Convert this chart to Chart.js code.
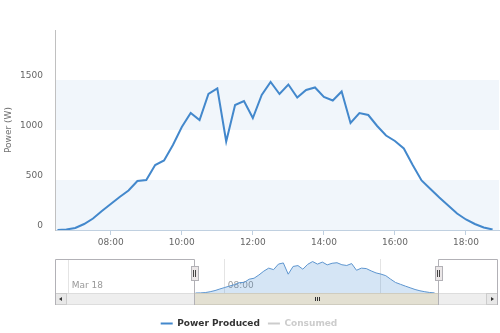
<!DOCTYPE html>
<html>
<head>
<meta charset="utf-8">
<script src="https://cdn.jsdelivr.net/npm/chart.js@4.4.1/dist/chart.umd.min.js"></script>
<style>
  html, body { margin: 0; padding: 0; background: #fff; overflow: hidden; width: 500px; height: 333px; }
  #main { position: absolute; left: 0; top: 0; }
  #nav { position: absolute; left: 0; top: 250px; }
</style>
</head>
<body>
<canvas id="main" width="500" height="250"></canvas>
<canvas id="nav" width="500" height="88"></canvas>
<script>
// readings, 15 min apart, Mar 18
const times = ['06:30', '06:45', '07:00', '07:15', '07:30', '07:45', '08:00', '08:15', '08:30', '08:45',
  '09:00', '09:15', '09:30', '09:45', '10:00', '10:15', '10:30', '10:45', '11:00', '11:15',
  '11:30', '11:45', '12:00', '12:15', '12:30', '12:45', '13:00', '13:15', '13:30', '13:45',
  '14:00', '14:15', '14:30', '14:45', '15:00', '15:15', '15:30', '15:45', '16:00', '16:15',
  '16:30', '16:45', '17:00', '17:15', '17:30', '17:45', '18:00', '18:15', '18:30', '18:45']
const powerProduced = [0, 5, 20, 60, 115, 190, 260, 330, 395, 490,
  500, 650, 695, 850, 1030, 1170, 1100, 1360, 1415, 885,
  1250, 1290, 1120, 1350, 1480, 1360, 1455, 1325, 1400, 1425,
  1330, 1295, 1385, 1070, 1170, 1150, 1040, 945, 890, 815,
  650, 495, 410, 325, 245, 165, 105, 60, 25, 5]
const consumed = []

const seriesNames = ['Power Produced', 'Consumed']
const xTickLabels = ['08:00', '10:00', '12:00', '14:00', '16:00', '18:00']
const yTicks = [0, 500, 1000, 1500]
const yBands = [[0, 500], [1000, 1500]]
const navTickLabels = ['Mar 18', '08:00', '']
const navTickValues = [0, 8, 16]

const viewMin = 6.43
const viewMax = 18.93

const toHours = (t) => {
  const [h, m] = t.split(':').map(Number)
  return h + m / 60
}
const points = times.map((t, i) => ({ x: toHours(t), y: powerProduced[i] }))

Chart.defaults.font.family = 'DejaVu Sans'
Chart.defaults.font.size = 9

const lineColor = '#4388cc'

// alternate grid bands behind the line
const bandsPlugin = {
  id: 'bands',
  beforeDatasetsDraw (chart) {
    const { ctx, chartArea: a, scales: { y } } = chart
    ctx.save()
    ctx.fillStyle = '#f1f6fb'
    yBands.forEach(([from, to]) => {
      const y1 = y.getPixelForValue(to)
      const y2 = y.getPixelForValue(from)
      ctx.fillRect(a.left + 1, y1, a.right - a.left - 1, y2 - y1)
    })
    ctx.restore()
  }
}

new Chart(document.getElementById('main'), {
  type: 'line',
  data: {
    datasets: [{
      label: seriesNames[0],
      data: points,
      borderColor: lineColor,
      borderWidth: 2,
      pointRadius: 0,
      tension: 0,
      fill: false
    }]
  },
  options: {
    animation: false,
    responsive: false,
    layout: { padding: { top: 30, right: 1, left: 0, bottom: 0 } },
    plugins: { legend: { display: false }, tooltip: { enabled: false } },
    scales: {
      x: {
        type: 'linear',
        min: viewMin,
        max: viewMax,
        afterBuildTicks: (s) => { s.ticks = xTickLabels.map((t) => ({ value: toHours(t) })) },
        afterFit: (s) => { s.height = 20 },
        grid: { drawOnChartArea: false, drawTicks: true, tickLength: 5, color: '#c0d0e0' },
        border: { color: '#c0d0e0' },
        ticks: {
          color: '#666',
          padding: 2,
          maxRotation: 0,
          autoSkip: false,
          callback: (v) => xTickLabels.find((t) => toHours(t) === v) || ''
        }
      },
      y: {
        min: 0,
        max: 2000,
        afterBuildTicks: (s) => { s.ticks = yTicks.map((v) => ({ value: v })) },
        afterFit: (s) => { s.width = 55 },
        grid: { display: false, drawTicks: false },
        border: { display: true, color: '#c0c0c0' },
        ticks: { color: '#666', padding: 12, labelOffset: -4, callback: (v) => String(v) },
        title: { display: true, text: 'Power (W)', color: '#707070', padding: { top: 3, bottom: 0 } }
      }
    }
  },
  plugins: [bandsPlugin]
})

// navigator frame, handles and scrollbar
const navigatorPlugin = {
  id: 'navigatorFrame',
  afterDatasetsDraw (chart) {
    const { ctx, chartArea: a, scales: { x } } = chart
    const lo = Math.round(x.getPixelForValue(viewMin)) + 0.5
    const hi = Math.round(x.getPixelForValue(viewMax)) + 0.5
    const left = a.left + 0.5
    const right = a.right - 0.5
    const top = a.top + 0.5
    const bottom = a.bottom
    const sbH = 12
    ctx.save()

    // scrollbar track
    ctx.fillStyle = '#eeeeee'
    ctx.fillRect(a.left, bottom, a.right - a.left, sbH)
    ctx.strokeStyle = '#dddddd'
    ctx.strokeRect(left, bottom + 0.5, right - left, sbH - 1)
    // thumb
    ctx.fillStyle = '#e3e0d2'
    ctx.fillRect(lo, bottom, hi - lo, sbH)
    ctx.strokeStyle = '#cfccbf'
    ctx.strokeRect(lo, bottom + 0.5, hi - lo, sbH - 1)
    const mid = Math.round((lo + hi) / 2)
    ctx.strokeStyle = '#333'
    ctx.beginPath()
    ;[-2, 0, 2].forEach((d) => {
      ctx.moveTo(mid + d + 0.5, bottom + 4)
      ctx.lineTo(mid + d + 0.5, bottom + 8)
    })
    ctx.stroke()
    // buttons
    ctx.fillStyle = '#e8e8e8'
    ctx.fillRect(a.left, bottom, 12, sbH)
    ctx.fillRect(a.right - 12, bottom, 12, sbH)
    ctx.strokeStyle = '#cccccc'
    ctx.strokeRect(left, bottom + 0.5, 11, sbH - 1)
    ctx.strokeRect(right - 11, bottom + 0.5, 11, sbH - 1)
    ctx.fillStyle = '#333'
    ctx.beginPath()
    ctx.moveTo(a.left + 4, bottom + 6); ctx.lineTo(a.left + 7, bottom + 4); ctx.lineTo(a.left + 7, bottom + 8)
    ctx.moveTo(a.right - 4, bottom + 6); ctx.lineTo(a.right - 7, bottom + 4); ctx.lineTo(a.right - 7, bottom + 8)
    ctx.fill()

    // outline
    ctx.strokeStyle = '#b2b1b6'
    ctx.lineWidth = 1
    ctx.beginPath()
    ctx.moveTo(left, bottom + sbH)
    ctx.lineTo(left, top)
    ctx.lineTo(lo, top)
    ctx.lineTo(lo, bottom + sbH)
    ctx.moveTo(hi, bottom + sbH)
    ctx.lineTo(hi, top)
    ctx.lineTo(right, top)
    ctx.lineTo(right, bottom + sbH)
    ctx.stroke()

    // handles
    const hy = a.top + 7
    ;[lo, hi].forEach((px) => {
      ctx.fillStyle = '#ebe7e8'
      ctx.fillRect(px - 3, hy, 7, 15)
      ctx.strokeStyle = '#b2b1b6'
      ctx.strokeRect(px - 3, hy + 0.5, 7, 14)
      ctx.strokeStyle = '#444'
      ctx.beginPath()
      ctx.moveTo(px - 1, hy + 4); ctx.lineTo(px - 1, hy + 11)
      ctx.moveTo(px + 1, hy + 4); ctx.lineTo(px + 1, hy + 11)
      ctx.stroke()
    })
    ctx.restore()
  }
}

new Chart(document.getElementById('nav'), {
  type: 'line',
  data: {
    datasets: [{
      label: seriesNames[0],
      data: points,
      borderColor: '#5d95cf',
      backgroundColor: 'rgba(63,135,208,0.22)',
      borderWidth: 1,
      pointRadius: 0,
      tension: 0,
      fill: 'origin'
    }, {
      label: seriesNames[1],
      data: consumed,
      borderColor: '#cccccc',
      pointRadius: 0,
      hidden: true
    }]
  },
  options: {
    animation: false,
    responsive: false,
    layout: { padding: { top: 9, right: 2, left: 0, bottom: 0 } },
    plugins: {
      tooltip: { enabled: false },
      legend: {
        position: 'bottom',
        labels: {
          boxWidth: 12,
          boxHeight: 2,
          padding: 8,
          font: { size: 9, weight: 'bold' },
          generateLabels: (chart) => chart.data.datasets.map((ds, i) => ({
            text: ds.label,
            fillStyle: ds.hidden ? '#cccccc' : lineColor,
            strokeStyle: ds.hidden ? '#cccccc' : lineColor,
            lineWidth: 0,
            fontColor: ds.hidden ? '#cccccc' : '#333333',
            hidden: false,
            datasetIndex: i
          }))
        }
      }
    },
    scales: {
      x: {
        type: 'linear',
        min: -0.7,
        max: 22,
        afterBuildTicks: (s) => { s.ticks = navTickValues.map((v) => ({ value: v })) },
        afterFit: (s) => { s.height = 18 },
        grid: { drawOnChartArea: true, drawTicks: false, color: '#e4e4e4' },
        border: { display: false },
        ticks: {
          color: '#999',
          align: 'start',
          mirror: true,
          padding: 2,
          labelOffset: 3,
          maxRotation: 0,
          autoSkip: false,
          callback: (v) => navTickLabels[navTickValues.indexOf(v)]
        }
      },
      y: {
        display: true,
        min: 0,
        max: 1600,
        afterFit: (s) => { s.width = 55 },
        ticks: { display: false },
        grid: { display: false },
        border: { display: false }
      }
    }
  },
  plugins: [navigatorPlugin]
})
</script>
</body>
</html>
